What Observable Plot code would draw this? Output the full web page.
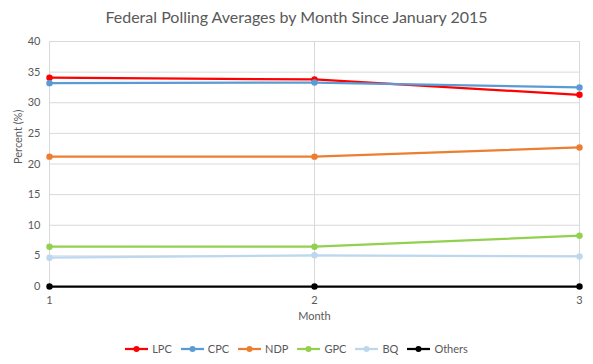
<!DOCTYPE html>
<html>
<head>
<meta charset="utf-8">
<script src="https://cdn.jsdelivr.net/npm/d3@7"></script>
<script src="https://cdn.jsdelivr.net/npm/@observablehq/plot@0.6"></script>
<style>
  body { margin: 0; background: #fff; font-family: "Lato", "Liberation Sans", sans-serif; color: #595959; }
  #wrap { width: 593px; height: 364px; position: relative; }
  #title { height: 32px; line-height: 34px; text-align: center; font-size: 16px; color: #595959; }
  #legend { display: flex; justify-content: center; align-items: center; font-size: 11px; gap: 9px; margin-top: 10px; }
  .item { display: flex; align-items: center; gap: 4px; }
</style>
</head>
<body>
<div id="wrap">
  <div id="title">Federal Polling Averages by Month Since January 2015</div>
  <div id="chart"></div>
  <div id="legend"></div>
</div>
<script>
const months = [1, 2, 3];
const parties = ["LPC", "CPC", "NDP", "GPC", "BQ", "Others"];
const colors = ["#ff0000", "#5b9bd5", "#ed7d31", "#92d050", "#bdd7ee", "#000000"];
const LPC = [34.1, 33.8, 31.3];
const CPC = [33.2, 33.3, 32.5];
const NDP = [21.2, 21.2, 22.7];
const GPC = [6.5, 6.5, 8.3];
const BQ = [4.7, 5.1, 4.9];
const Others = [0, 0, 0];
const yTicks = [0, 5, 10, 15, 20, 25, 30, 35, 40];

const series = { LPC, CPC, NDP, GPC, BQ, Others };
const data = parties.flatMap(p => months.map((m, i) => ({ party: p, month: m, value: series[p][i] })));

const chart = Plot.plot({
  width: 593,
  height: 300,
  marginLeft: 49,
  marginRight: 14,
  marginTop: 9,
  marginBottom: 46,
  style: { fontFamily: "Lato, 'Liberation Sans', sans-serif", fontSize: "11px", color: "#595959", background: "#fff" },
  x: { domain: [1, 3], ticks: months, tickFormat: d => String(d), label: null },
  y: { domain: [0, 40], ticks: yTicks, label: null },
  color: { domain: parties, range: colors },
  marks: [
    Plot.gridY(yTicks, { stroke: "#d9d9d9", strokeOpacity: 1 }),
    Plot.gridX(months, { stroke: "#d9d9d9", strokeOpacity: 1 }),
    Plot.axisY(yTicks, { tickSize: 0, tickPadding: 9, fill: "#595959", fontSize: 11 }),
    Plot.axisX(months, { tickSize: 0, tickPadding: 10, fill: "#595959", fontSize: 11, tickFormat: d => String(d) }),
    Plot.text(["Month"], { x: () => 2, y: () => 0, dy: 30, fill: "#595959", fontSize: 11 }),
    Plot.text(["Percent (%)"], { frameAnchor: "left", rotate: -90, dx: -31, fill: "#595959", fontSize: 11 }),
    Plot.line(data, { x: "month", y: "value", z: "party", stroke: "party", strokeWidth: 2.25 }),
    Plot.dot(data, { x: "month", y: "value", fill: "party", r: 3.2 })
  ]
});
document.getElementById("chart").appendChild(chart);

const legend = document.getElementById("legend");
parties.forEach((p, i) => {
  const item = document.createElement("div");
  item.className = "item";
  item.innerHTML = `<svg width="23" height="8"><line x1="0" x2="23" y1="4" y2="4" stroke="${colors[i]}" stroke-width="2.25"/><circle cx="11.5" cy="4" r="3" fill="${colors[i]}"/></svg><span>${p}</span>`;
  legend.appendChild(item);
});
</script>
</body>
</html>
